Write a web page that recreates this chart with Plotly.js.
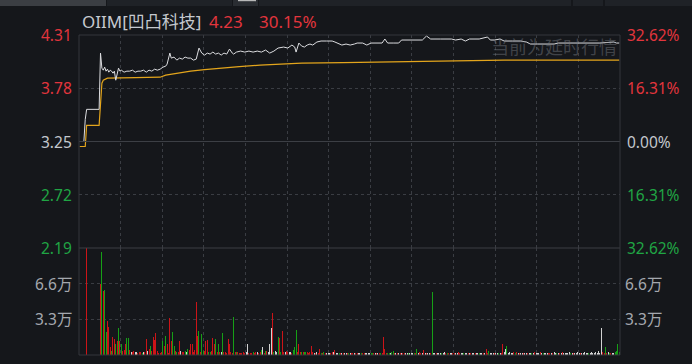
<!DOCTYPE html>
<html><head><meta charset="utf-8">
<script src="https://cdn.plot.ly/plotly-3.0.1.min.js"></script>
<style>html,body{margin:0;padding:0;background:#15171b;overflow:hidden;} #chart{width:692px;height:364px;}</style>
</head><body><div id="chart"></div>
<script>
// ---------- data ----------
const stockName = 'OIIM[凹凸科技]';
const lastPrice = '4.23';
const lastChange = '30.15%';
const priceTicks = [4.31, 3.78, 3.25, 2.72, 2.19];
const priceTickText = ['4.31', '3.78', '3.25', '2.72', '2.19'];
const pctTickText = ['32.62%', '16.31%', '0.00%', '16.31%', '32.62%'];
const tickTone = ['up', 'up', 'flat', 'down', 'down'];
const volTicks = [3.3, 6.6];
const volTickText = ['3.3万', '6.6万'];
const watermark = '当前为延时行情';

// price (minute index from open, price)
const priceMin = [0,3,4,5,14,15,16,17,18,19,20,21,22,23,24,25,26,27,28,29,30,32,34,36,38,40,42,44,46,48,50,52,54,56,58,60,62,63,65,66,68,70,72,74,76,78,80,82,84,86,88,90,92,94,96,98,100,102,104,106,108,110,111,113,116,119,122,125,128,131,134,137,140,143,147,150,153,155,156,158,160,162,164,166,168,171,174,178,182,184,186,189,192,195,198,200,204,207,210,214,218,220,222,226,230,232,240,247,250,253,260,268,271,275,278,281,288,292,294,296,299,303,306,312,318,322,325,330,336,342,345,355,365,375,385,387,389];
const priceVal = [3.25,3.25,3.47,3.57,3.57,4.13,3.98,3.96,3.99,3.95,3.97,3.94,3.96,3.95,3.93,3.95,3.86,3.91,3.98,3.95,3.96,3.94,3.95,3.95,3.96,3.94,3.95,3.95,3.96,3.94,3.96,3.95,3.97,3.96,3.97,3.99,4.00,4.02,4.13,4.08,4.09,4.06,4.08,4.07,4.09,4.08,4.08,4.06,4.07,4.18,4.13,4.11,4.13,4.12,4.14,4.12,4.13,4.11,4.13,4.12,4.17,4.13,4.12,4.14,4.15,4.14,4.15,4.14,4.15,4.14,4.16,4.13,4.15,4.18,4.19,4.18,4.21,4.19,4.14,4.23,4.20,4.19,4.21,4.22,4.21,4.24,4.25,4.25,4.25,4.24,4.23,4.21,4.22,4.21,4.22,4.23,4.23,4.21,4.23,4.23,4.23,4.27,4.23,4.23,4.23,4.26,4.26,4.26,4.30,4.27,4.27,4.27,4.26,4.27,4.25,4.27,4.27,4.28,4.29,4.26,4.26,4.27,4.25,4.25,4.25,4.24,4.22,4.22,4.22,4.22,4.23,4.23,4.23,4.23,4.24,4.23,4.23];

// average price line
const avgMin = [0,4,5,14,15,16,17,20,40,58,62,70,80,90,100,115,130,145,160,190,220,254,290,306,389];
const avgVal = [3.20,3.20,3.41,3.41,3.62,3.83,3.86,3.88,3.885,3.89,3.91,3.93,3.95,3.965,3.98,3.995,4.01,4.02,4.03,4.035,4.04,4.045,4.05,4.06,4.06];

// volume per minute (万 shares) and direction
const volume = [
0,0,0,0,0,9.9,0,0,0,0,
0,0,0,0,0,6.6,9.5,5.9,6.0,2.1,
3.1,2.6,0.7,0.4,1.7,1.5,1.0,1.3,2.5,1.3,
1.0,0.4,0.5,1.0,1.6,1.6,0.5,0.3,0.3,0.4,
0.3,0.3,0.2,0.25,0.25,0.2,0.3,0.25,1.5,0.4,
0.6,0.8,0.4,1.7,1.4,2.0,0.4,0.2,0.2,0.3,
1.3,0.8,1.8,1.0,0.2,3.4,1.3,2.1,0.8,0.4,
0.3,0.3,1.3,0.4,0.3,0.3,0.4,0.3,0.6,0.5,
1.0,1.0,0.3,0.5,4.9,1.8,2.2,0.3,1.9,0.4,
0.4,1.3,1.4,0.3,0.3,0.4,1.6,1.0,1.5,0.3,
1.0,0.3,0.25,2.0,0.3,0.3,0.2,1.5,1.0,0.3,
0.2,3.5,0.25,0.25,0.25,0.15,0.15,0.2,0.25,0.15,
0.25,1.0,0.15,0.2,0.15,0.25,0.15,0.25,0.25,0.2,
0.25,0.45,0.7,0.2,0.4,0.4,0.25,1.0,2.5,3.9,
0.3,0.4,0.25,1.7,1.6,0.3,2.2,0.25,0.25,0.4,
0.25,0.25,0.25,0.15,0.5,0.7,2.3,0.25,1.0,0.25,
0.25,0.25,0.25,0.25,0.25,0.2,0.25,0.8,0.25,0.2,
0.15,0.25,0.2,0.6,0.2,0.15,0.25,0.15,0.15,0.2,
0.15,0.2,0.25,0.25,0.5,0.2,0.15,0.15,0.2,0.15,
0.15,0.2,0.2,0.15,0.2,0.15,0.2,0.2,0.15,0.2,
0.15,0.2,0.15,0.2,0.2,0.15,0.15,0.2,0.2,0.15,
0.2,0.15,0.2,0.2,0.15,0.2,0.15,0.2,0.15,1.65,
0.55,0.15,0.2,0.15,0.2,0.3,0.35,0.15,0.2,0.15,
0.2,0.15,0.2,0.15,0.2,0.2,0.15,0.2,0.15,0.2,
0.15,0.2,0.2,0.6,0.2,0.25,0.2,0.2,0.5,0.15,
0.2,0.15,0.2,0.15,5.8,0.2,0.15,0.2,0.15,0.2,
0.15,0.2,0.2,0.25,0.15,0.2,0.15,0.2,0.15,0.2,
0.2,0.15,0.2,0.25,0.2,0.15,0.2,0.15,0.2,0.2,
0.15,0.2,0.15,0.2,0.15,0.2,0.2,0.15,0.2,0.15,
0.2,0.15,0.2,0.6,0.2,0.4,0.15,0.2,0.15,0.2,
0.2,0.15,0.2,0.15,0.2,1.0,0.3,0.6,0.8,0.15,
0.25,0.2,0.15,0.3,0.2,0.25,0.15,0.2,0.2,0.15,
0.15,0.2,0.2,0.15,0.2,0.2,0.15,0.2,0.25,0.2,
0.2,0.15,0.25,0.2,0.15,0.2,0.2,0.15,0.2,0.2,
0.15,0.2,0.25,0.2,0.2,0.15,0.2,0.2,0.25,0.2,
0.2,0.15,0.2,0.3,0.2,0.15,0.2,0.15,0.2,0.3,
0.2,0.15,0.2,0.2,0.25,0.2,0.15,0.2,0.2,0.25,
0.2,0.2,0.25,0.2,0.35,0.2,2.5,0.3,0.2,0.7,
0.2,0.25,0.2,0.2,0.2,0.2,0.25,0.4,1.0,0.3];
const volDir = [
'w','w','w','w','w','r','w','w','w','w',
'w','w','w','w','w','r','g','r','g','g',
'r','r','r','g','r','r','g','r','g','r',
'g','r','r','r','g','g','r','w','r','r',
'w','w','r','r','r','g','w','r','r','w',
'r','g','r','r','r','r','r','r','r','r',
'g','r','g','r','r','r','r','g','g','r',
'g','r','r','w','r','r','g','w','g','r',
'r','r','r','r','r','r','g','r','g','g',
'r','r','r','g','g','r','r','r','g','r',
'g','r','w','g','r','r','r','r','r','r',
'r','g','r','g','r','r','r','r','r','r',
'w','w','r','r','r','g','r','r','w','r',
'r','g','w','r','g','r','w','w','w','r',
'g','w','w','g','r','g','r','r','w','r',
'r','w','w','r','g','g','g','r','r','r',
'g','r','g','g','r','r','r','r','r','w',
'r','w','r','r','g','r','g','r','w','w',
'w','r','r','w','r','w','w','g','r','w',
'r','w','w','r','g','w','r','r','w','r',
'r','w','w','g','r','r','w','w','w','w',
'g','g','r','w','r','w','r','g','r','r',
'r','r','g','g','w','g','g','r','w','r',
'w','r','w','r','r','w','w','g','w','w',
'w','g','r','g','w','r','r','w','r','w',
'r','w','w','r','g','w','w','r','w','w',
'w','g','w','w','r','g','r','w','w','r',
'r','w','w','r','r','w','w','g','w','w',
'r','w','r','w','w','r','w','w','g','w',
'w','r','w','r','r','g','w','w','w','r',
'w','w','g','w','r','r','w','w','g','w',
'w','w','w','r','g','r','w','r','w','w',
'r','w','w','r','w','w','g','w','r','w',
'w','w','r','w','g','w','w','w','r','r',
'w','r','w','w','g','w','r','w','r','w',
'w','w','w','w','g','w','r','w','w','w',
'w','r','w','w','w','w','w','g','w','w',
'w','w','w','w','w','w','w','r','r','g',
'r','w','g','r','w','w','g','g','g','g'];

// ---------- style ----------
const BG = '#15171b';
const RED = '#e2353d', GREEN = '#20a544', FLAT = '#c3c7cd', GRAYTXT = '#a4a8ae';
const BAR = {r: '#cc1418', g: '#16a016', w: '#d2d2d2'};
const FONT = 'Noto Sans, Noto Sans CJK SC, sans-serif';
const W = 692, H = 364, ML = 79, MR = 72, MT = 35, MB = 9;
const PW = W - ML - MR, PH = H - MT - MB;
const px = x => (x - ML) / PW;
const py = y => (H - MB - y) / PH;
const split = py(248);

const traces = [
  {type: 'bar', x: volume.map((v, i) => i), y: volume, xaxis: 'x2', yaxis: 'y2',
   marker: {color: volDir.map(d => BAR[d]), line: {width: 0}}, width: 0.72, hoverinfo: 'skip'},
  {type: 'scatter', mode: 'lines', x: avgMin, y: avgVal, xaxis: 'x', yaxis: 'y',
   line: {color: '#e3a51c', width: 1.2}, hoverinfo: 'skip'},
  {type: 'scatter', mode: 'lines', x: priceMin, y: priceVal, xaxis: 'x', yaxis: 'y',
   line: {color: '#dcdde0', width: 1}, hoverinfo: 'skip'}
];

const gridX = [];
for (let k = 1; k < 13; k++) gridX.push(k * 30 - 0.5);
const xCommon = {range: [-0.5, 389.5], tickvals: gridX, showticklabels: false, showgrid: true,
  gridcolor: '#3a3d43', griddash: 'dot', gridwidth: 1, zeroline: false, showline: false, ticks: '', fixedrange: true};

const ann = [];
priceTicks.forEach((v, i) => {
  const c = tickTone[i] === 'up' ? RED : tickTone[i] === 'down' ? GREEN : FLAT;
  ann.push({xref: 'paper', yref: 'y', x: 0, y: v, xanchor: 'right', yanchor: 'middle', xshift: -5,
    text: priceTickText[i], showarrow: false, font: {family: FONT, size: 15.5, color: c}});
  ann.push({xref: 'paper', yref: 'y', x: 1, y: v, xanchor: 'left', yanchor: 'middle', xshift: 5,
    text: pctTickText[i], showarrow: false, font: {family: FONT, size: 15.5, color: c}});
});
volTicks.forEach((v, i) => {
  ann.push({xref: 'paper', yref: 'y2', x: 0, y: v, xanchor: 'right', yanchor: 'middle', xshift: -5,
    text: volTickText[i], showarrow: false, font: {family: FONT, size: 15.5, color: GRAYTXT}});
  ann.push({xref: 'paper', yref: 'y2', x: 1, y: v, xanchor: 'left', yanchor: 'middle', xshift: 3,
    text: volTickText[i], showarrow: false, font: {family: FONT, size: 15.5, color: GRAYTXT}});
});
ann.push({xref: 'paper', yref: 'paper', x: px(80), y: py(21), xanchor: 'left', yanchor: 'middle',
  text: stockName, showarrow: false, font: {family: FONT, size: 17, color: '#c5c9cf'}});
ann.push({xref: 'paper', yref: 'paper', x: px(207), y: py(21), xanchor: 'left', yanchor: 'middle',
  text: lastPrice, showarrow: false, font: {family: FONT, size: 17, color: RED}});
ann.push({xref: 'paper', yref: 'paper', x: px(257), y: py(21), xanchor: 'left', yanchor: 'middle',
  text: lastChange, showarrow: false, font: {family: FONT, size: 17, color: RED}});
ann.push({xref: 'paper', yref: 'paper', x: px(619), y: py(47), xanchor: 'right', yanchor: 'middle',
  text: watermark, showarrow: false, font: {family: FONT, size: 18, color: 'rgba(120,124,132,0.45)'}});

const rectPx = (x0, y0, x1, y1, fill) => ({type: 'rect', xref: 'paper', yref: 'paper',
  x0: px(x0), x1: px(x1), y0: py(y1), y1: py(y0), fillcolor: fill, line: {width: 0}, layer: 'below'});

const shapes = [
  rectPx(0, 0, 106, 6, '#3b3e43'),
  rectPx(107, 0, 232, 6, '#1f2227'),
  rectPx(233, 0, 258, 6, '#2a2d32'),
  rectPx(238, 0, 256, 1.2, '#b8b8b8'),
  rectPx(259, 0, 571, 6, '#1f2227'),
  rectPx(573, 0, 603, 6, '#1f2227'),
  rectPx(605, 0, 692, 6, '#1f2227'),
  {type: 'line', xref: 'paper', yref: 'y', x0: 0, x1: 1, y0: 3.25, y1: 3.25, line: {color: '#3c3f45', width: 1}},
  {type: 'line', xref: 'paper', yref: 'paper', x0: 0, x1: 1, y0: split, y1: split, line: {color: '#3c3f45', width: 1}},
  {type: 'rect', xref: 'paper', yref: 'paper', x0: 0, x1: 1, y0: 0, y1: 1, line: {color: '#34373c', width: 1}}
];

const layout = {
  width: W, height: H, margin: {l: ML, r: MR, t: MT, b: MB, pad: 0},
  paper_bgcolor: BG, plot_bgcolor: BG, showlegend: false, hovermode: false, bargap: 0,
  xaxis: Object.assign({anchor: 'y', domain: [0, 1]}, xCommon),
  xaxis2: Object.assign({anchor: 'y2', domain: [0, 1], matches: 'x'}, xCommon),
  yaxis: {domain: [split, 1], range: [2.19, 4.31], tickvals: [3.78, 2.72], showticklabels: false,
    showgrid: true, gridcolor: '#3a3d43', griddash: 'dot', zeroline: false, showline: false, ticks: '', fixedrange: true},
  yaxis2: {domain: [0, split], range: [0, 9.9], tickvals: volTicks, showticklabels: false,
    showgrid: true, gridcolor: '#3a3d43', griddash: 'dot', zeroline: false, showline: false, ticks: '', fixedrange: true},
  annotations: ann, shapes: shapes
};

Plotly.newPlot('chart', traces, layout, {staticPlot: true, displayModeBar: false});
</script></body></html>
